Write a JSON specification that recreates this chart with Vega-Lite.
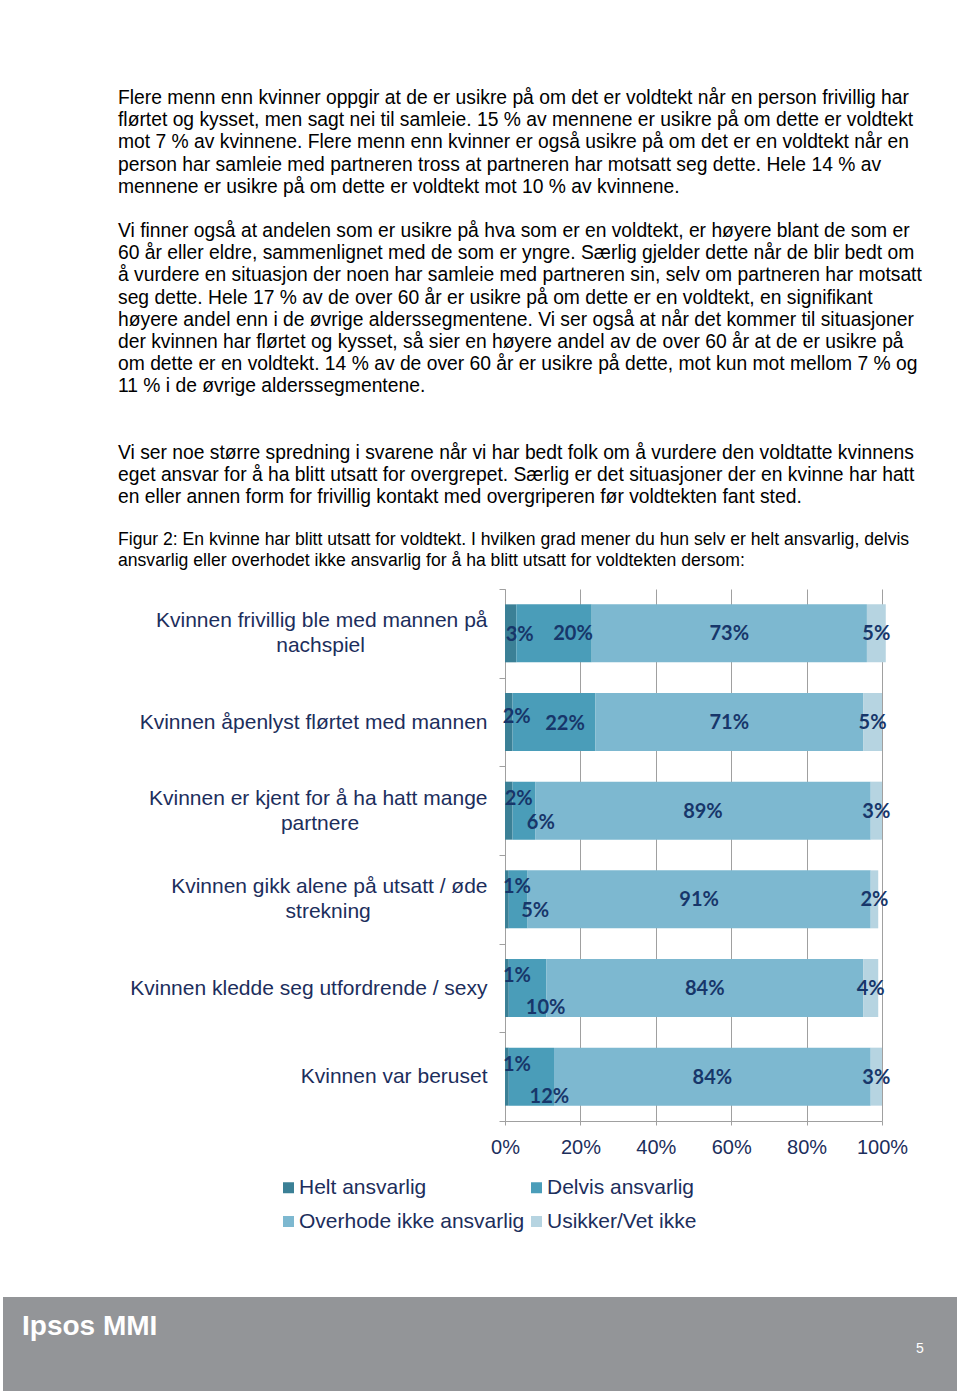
{
  "$schema": "https://vega.github.io/schema/vega-lite/v6.json",
  "background": "white",
  "padding": {"left": 3, "top": 89, "right": 0, "bottom": 0},
  "config": {"view": {"stroke": null}, "font": "Liberation Sans"},
  "title": {
    "text": [
      "Flere menn enn kvinner oppgir at de er usikre på om det er voldtekt når en person frivillig har",
      "flørtet og kysset, men sagt nei til samleie. 15 % av mennene er usikre på om dette er voldtekt",
      "mot 7 % av kvinnene. Flere menn enn kvinner er også usikre på om det er en voldtekt når en",
      "person har samleie med partneren tross at partneren har motsatt seg dette. Hele 14 % av",
      "mennene er usikre på om dette er voldtekt mot 10 % av kvinnene.",
      "\u200b",
      "Vi finner også at andelen som er usikre på hva som er en voldtekt, er høyere blant de som er",
      "60 år eller eldre, sammenlignet med de som er yngre. Særlig gjelder dette når de blir bedt om",
      "å vurdere en situasjon der noen har samleie med partneren sin, selv om partneren har motsatt",
      "seg dette. Hele 17 % av de over 60 år er usikre på om dette er en voldtekt, en signifikant",
      "høyere andel enn i de øvrige alderssegmentene. Vi ser også at når det kommer til situasjoner",
      "der kvinnen har flørtet og kysset, så sier en høyere andel av de over 60 år at de er usikre på",
      "om dette er en voldtekt. 14 % av de over 60 år er usikre på dette, mot kun mot mellom 7 % og",
      "11 % i de øvrige alderssegmentene.",
      "\u200b",
      "\u200b",
      "Vi ser noe større spredning i svarene når vi har bedt folk om å vurdere den voldtatte kvinnens",
      "eget ansvar for å ha blitt utsatt for overgrepet. Særlig er det situasjoner der en kvinne har hatt",
      "en eller annen form for frivillig kontakt med overgriperen før voldtekten fant sted."
    ],
    "subtitle": [
      "Figur 2: En kvinne har blitt utsatt for voldtekt. I hvilken grad mener du hun selv er helt ansvarlig, delvis",
      "ansvarlig eller overhodet ikke ansvarlig for å ha blitt utsatt for voldtekten dersom:"
    ],
    "anchor": "start",
    "frame": "bounds",
    "dx": 115,
    "font": "Liberation Sans",
    "fontSize": 19.3,
    "fontWeight": "normal",
    "color": "#000000",
    "lineHeight": 22.17,
    "subtitleFont": "Liberation Sans",
    "subtitleFontSize": 17.6,
    "subtitleColor": "#000000",
    "subtitleLineHeight": 21,
    "subtitlePadding": 24,
    "offset": 8
  },
  "spacing": 140,
  "vconcat": [
    {
      "bounds": "flush",
      "spacing": 0,
      "hconcat": [
        {
          "width": 502,
          "height": 532,
          "data": {"values": []},
          "mark": {"type": "rule"},
          "encoding": {}
        },
        {
          "width": 377,
          "height": 532,
          "data": {
            "values": [
              {"item": "Kvinnen frivillig ble med mannen på nachspiel", "cat": "Helt ansvarlig", "n": 1, "pct": 0.03},
              {"item": "Kvinnen frivillig ble med mannen på nachspiel", "cat": "Delvis ansvarlig", "n": 2, "pct": 0.20},
              {"item": "Kvinnen frivillig ble med mannen på nachspiel", "cat": "Overhode ikke ansvarlig", "n": 3, "pct": 0.73},
              {"item": "Kvinnen frivillig ble med mannen på nachspiel", "cat": "Usikker/Vet ikke", "n": 4, "pct": 0.05},
              {"item": "Kvinnen åpenlyst flørtet med mannen", "cat": "Helt ansvarlig", "n": 1, "pct": 0.02},
              {"item": "Kvinnen åpenlyst flørtet med mannen", "cat": "Delvis ansvarlig", "n": 2, "pct": 0.22},
              {"item": "Kvinnen åpenlyst flørtet med mannen", "cat": "Overhode ikke ansvarlig", "n": 3, "pct": 0.71},
              {"item": "Kvinnen åpenlyst flørtet med mannen", "cat": "Usikker/Vet ikke", "n": 4, "pct": 0.05},
              {"item": "Kvinnen er kjent for å ha hatt mange partnere", "cat": "Helt ansvarlig", "n": 1, "pct": 0.02},
              {"item": "Kvinnen er kjent for å ha hatt mange partnere", "cat": "Delvis ansvarlig", "n": 2, "pct": 0.06},
              {"item": "Kvinnen er kjent for å ha hatt mange partnere", "cat": "Overhode ikke ansvarlig", "n": 3, "pct": 0.89},
              {"item": "Kvinnen er kjent for å ha hatt mange partnere", "cat": "Usikker/Vet ikke", "n": 4, "pct": 0.03},
              {"item": "Kvinnen gikk alene på utsatt / øde strekning", "cat": "Helt ansvarlig", "n": 1, "pct": 0.01},
              {"item": "Kvinnen gikk alene på utsatt / øde strekning", "cat": "Delvis ansvarlig", "n": 2, "pct": 0.05},
              {"item": "Kvinnen gikk alene på utsatt / øde strekning", "cat": "Overhode ikke ansvarlig", "n": 3, "pct": 0.91},
              {"item": "Kvinnen gikk alene på utsatt / øde strekning", "cat": "Usikker/Vet ikke", "n": 4, "pct": 0.02},
              {"item": "Kvinnen kledde seg utfordrende / sexy", "cat": "Helt ansvarlig", "n": 1, "pct": 0.01},
              {"item": "Kvinnen kledde seg utfordrende / sexy", "cat": "Delvis ansvarlig", "n": 2, "pct": 0.10},
              {"item": "Kvinnen kledde seg utfordrende / sexy", "cat": "Overhode ikke ansvarlig", "n": 3, "pct": 0.84},
              {"item": "Kvinnen kledde seg utfordrende / sexy", "cat": "Usikker/Vet ikke", "n": 4, "pct": 0.04},
              {"item": "Kvinnen var beruset", "cat": "Helt ansvarlig", "n": 1, "pct": 0.01},
              {"item": "Kvinnen var beruset", "cat": "Delvis ansvarlig", "n": 2, "pct": 0.12},
              {"item": "Kvinnen var beruset", "cat": "Overhode ikke ansvarlig", "n": 3, "pct": 0.84},
              {"item": "Kvinnen var beruset", "cat": "Usikker/Vet ikke", "n": 4, "pct": 0.03}
            ]
          },
          "encoding": {
            "y": {
              "field": "item",
              "type": "nominal",
              "sort": null,
              "scale": {"paddingInner": 0, "paddingOuter": 0},
              "axis": {
                "title": null,
                "tickBand": "extent",
                "tickSize": 6,
                "tickColor": "#A0A0A0",
                "domainColor": "#A0A0A0",
                "labelFont": "Liberation Sans",
                "labelFontSize": 21,
                "labelColor": "#1C2E5C",
                "labelPadding": 12,
                "labelLimit": 600,
                "labelLineHeight": 25,
                "labelOffset": {"condition": {"test": "indexof(['Kvinnen frivillig ble med mannen på nachspiel', 'Kvinnen er kjent for å ha hatt mange partnere', 'Kvinnen gikk alene på utsatt / øde strekning'], datum.value) >= 0", "value": -12.5}, "value": 0},
                "labelExpr": "datum.value == 'Kvinnen frivillig ble med mannen på nachspiel' ? ['Kvinnen frivillig ble med mannen på', pad('nachspiel', 30, '\u00a0') + '\u200b'] : datum.value == 'Kvinnen er kjent for å ha hatt mange partnere' ? ['Kvinnen er kjent for å ha hatt mange', pad('partnere', 30, '\u00a0') + '\u200b'] : datum.value == 'Kvinnen gikk alene på utsatt / øde strekning' ? ['Kvinnen gikk alene på utsatt / øde', pad('strekning', 29, '\u00a0') + '\u200b'] : datum.value"
              }
            },
            "order": {"field": "n", "type": "quantitative"}
          },
          "layer": [
            {
              "mark": {"type": "bar", "height": {"band": 0.654}},
              "encoding": {
                "x": {
                  "field": "pct",
                  "type": "quantitative",
                  "stack": "zero",
                  "scale": {"domain": [0, 1], "nice": false},
                  "axis": {
                    "title": null,
                    "format": ".0%",
                    "values": [0, 0.2, 0.4, 0.6, 0.8, 1],
                    "grid": true,
                    "gridColor": "#A0A0A0",
                    "domainColor": "#A0A0A0",
                    "tickColor": "#A0A0A0",
                    "tickSize": 4,
                    "labelFont": "Liberation Sans",
                    "labelFontSize": 20,
                    "labelColor": "#1C2E5C",
                    "labelPadding": 12,
                    "labelFlush": false,
                    "labelOverlap": false,
                    "labelBound": false
                  }
                },
                "color": {
                  "field": "cat",
                  "type": "nominal",
                  "scale": {
                    "domain": ["Helt ansvarlig", "Delvis ansvarlig", "Overhode ikke ansvarlig", "Usikker/Vet ikke"],
                    "range": ["#3B8096", "#4A9DB9", "#7DB8D0", "#B6D4E1"]
                  },
                  "legend": {
                    "orient": "none",
                    "legendX": 275,
                    "legendY": 588,
                    "title": null,
                    "direction": "horizontal",
                    "columns": 2,
                    "columnPadding": 1,
                    "rowPadding": 12,
                    "padding": 0,
                    "symbolType": "square",
                    "symbolSize": 121,
                    "symbolStrokeWidth": 0,
                    "labelOffset": 0,
                    "labelFont": "Liberation Sans",
                    "labelFontSize": 21,
                    "labelColor": "#1C2E5C",
                    "labelLimit": 400
                  }
                }
              }
            },
            {
              "mark": {"type": "text", "font": "Lato", "fontWeight": "bold", "fontSize": 20, "color": "#17366A", "dy": 1},
              "encoding": {
                "x": {"field": "pct", "type": "quantitative", "stack": "zero", "bandPosition": 0.5},
                "text": {"condition": {"test": "datum.cat == 'Overhode ikke ansvarlig' || datum.cat == 'Usikker/Vet ikke'", "field": "pct", "type": "quantitative", "format": ".0%"}, "value": ""}
              }
            },
            {
              "mark": {"type": "text", "font": "Lato", "fontWeight": "bold", "fontSize": 20, "color": "#17366A", "dx": 9, "dy": 2},
              "encoding": {
                "x": {"field": "pct", "type": "quantitative", "stack": "zero", "bandPosition": 0.5},
                "text": {"condition": {"test": "datum.cat == 'Helt ansvarlig' && datum.item == 'Kvinnen frivillig ble med mannen på nachspiel'", "field": "pct", "type": "quantitative", "format": ".0%"}, "value": ""}
              }
            },
            {
              "mark": {"type": "text", "font": "Lato", "fontWeight": "bold", "fontSize": 20, "color": "#17366A", "dx": 8, "dy": -5},
              "encoding": {
                "x": {"field": "pct", "type": "quantitative", "stack": "zero", "bandPosition": 0.5},
                "text": {"condition": {"test": "datum.cat == 'Helt ansvarlig' && datum.item == 'Kvinnen åpenlyst flørtet med mannen'", "field": "pct", "type": "quantitative", "format": ".0%"}, "value": ""}
              }
            },
            {
              "mark": {"type": "text", "font": "Lato", "fontWeight": "bold", "fontSize": 20, "color": "#17366A", "dx": 10, "dy": -12},
              "encoding": {
                "x": {"field": "pct", "type": "quantitative", "stack": "zero", "bandPosition": 0.5},
                "text": {"condition": {"test": "datum.cat == 'Helt ansvarlig' && indexof(['Kvinnen er kjent for å ha hatt mange partnere', 'Kvinnen gikk alene på utsatt / øde strekning', 'Kvinnen kledde seg utfordrende / sexy', 'Kvinnen var beruset'], datum.item) >= 0", "field": "pct", "type": "quantitative", "format": ".0%"}, "value": ""}
              }
            },
            {
              "mark": {"type": "text", "font": "Lato", "fontWeight": "bold", "fontSize": 20, "color": "#17366A", "dx": 19, "dy": 1},
              "encoding": {
                "x": {"field": "pct", "type": "quantitative", "stack": "zero", "bandPosition": 0.5},
                "text": {"condition": {"test": "datum.cat == 'Delvis ansvarlig' && datum.item == 'Kvinnen frivillig ble med mannen på nachspiel'", "field": "pct", "type": "quantitative", "format": ".0%"}, "value": ""}
              }
            },
            {
              "mark": {"type": "text", "font": "Lato", "fontWeight": "bold", "fontSize": 20, "color": "#17366A", "dx": 11, "dy": 2},
              "encoding": {
                "x": {"field": "pct", "type": "quantitative", "stack": "zero", "bandPosition": 0.5},
                "text": {"condition": {"test": "datum.cat == 'Delvis ansvarlig' && datum.item == 'Kvinnen åpenlyst flørtet med mannen'", "field": "pct", "type": "quantitative", "format": ".0%"}, "value": ""}
              }
            },
            {
              "mark": {"type": "text", "font": "Lato", "fontWeight": "bold", "fontSize": 20, "color": "#17366A", "dx": 17, "dy": 12},
              "encoding": {
                "x": {"field": "pct", "type": "quantitative", "stack": "zero", "bandPosition": 0.5},
                "text": {"condition": {"test": "datum.cat == 'Delvis ansvarlig' && indexof(['Kvinnen er kjent for å ha hatt mange partnere', 'Kvinnen gikk alene på utsatt / øde strekning'], datum.item) >= 0", "field": "pct", "type": "quantitative", "format": ".0%"}, "value": ""}
              }
            },
            {
              "mark": {"type": "text", "font": "Lato", "fontWeight": "bold", "fontSize": 20, "color": "#17366A", "dx": 18, "dy": 20},
              "encoding": {
                "x": {"field": "pct", "type": "quantitative", "stack": "zero", "bandPosition": 0.5},
                "text": {"condition": {"test": "datum.cat == 'Delvis ansvarlig' && indexof(['Kvinnen kledde seg utfordrende / sexy', 'Kvinnen var beruset'], datum.item) >= 0", "field": "pct", "type": "quantitative", "format": ".0%"}, "value": ""}
              }
            }
          ]
        }
      ]
    },
    {
      "bounds": "flush",
      "spacing": 0,
      "hconcat": [
        {
          "width": 880,
          "height": 94,
          "view": {"fill": "#939598", "stroke": null},
          "data": {"values": []},
          "mark": {"type": "rule"},
          "encoding": {},
          "title": {"text": "Ipsos MMI", "anchor": "start", "frame": "group", "orient": "top", "dx": 19, "offset": -44, "font": "Liberation Sans", "fontSize": 28, "fontWeight": "bold", "color": "#FFFFFF"}
        },
        {
          "width": 74,
          "height": 94,
          "view": {"fill": "#939598", "stroke": null},
          "data": {"values": []},
          "mark": {"type": "rule"},
          "encoding": {},
          "title": {"text": "5", "anchor": "middle", "frame": "group", "orient": "top", "offset": -59, "font": "Liberation Sans", "fontSize": 14, "fontWeight": "normal", "color": "#FFFFFF"}
        }
      ]
    }
  ]
}
